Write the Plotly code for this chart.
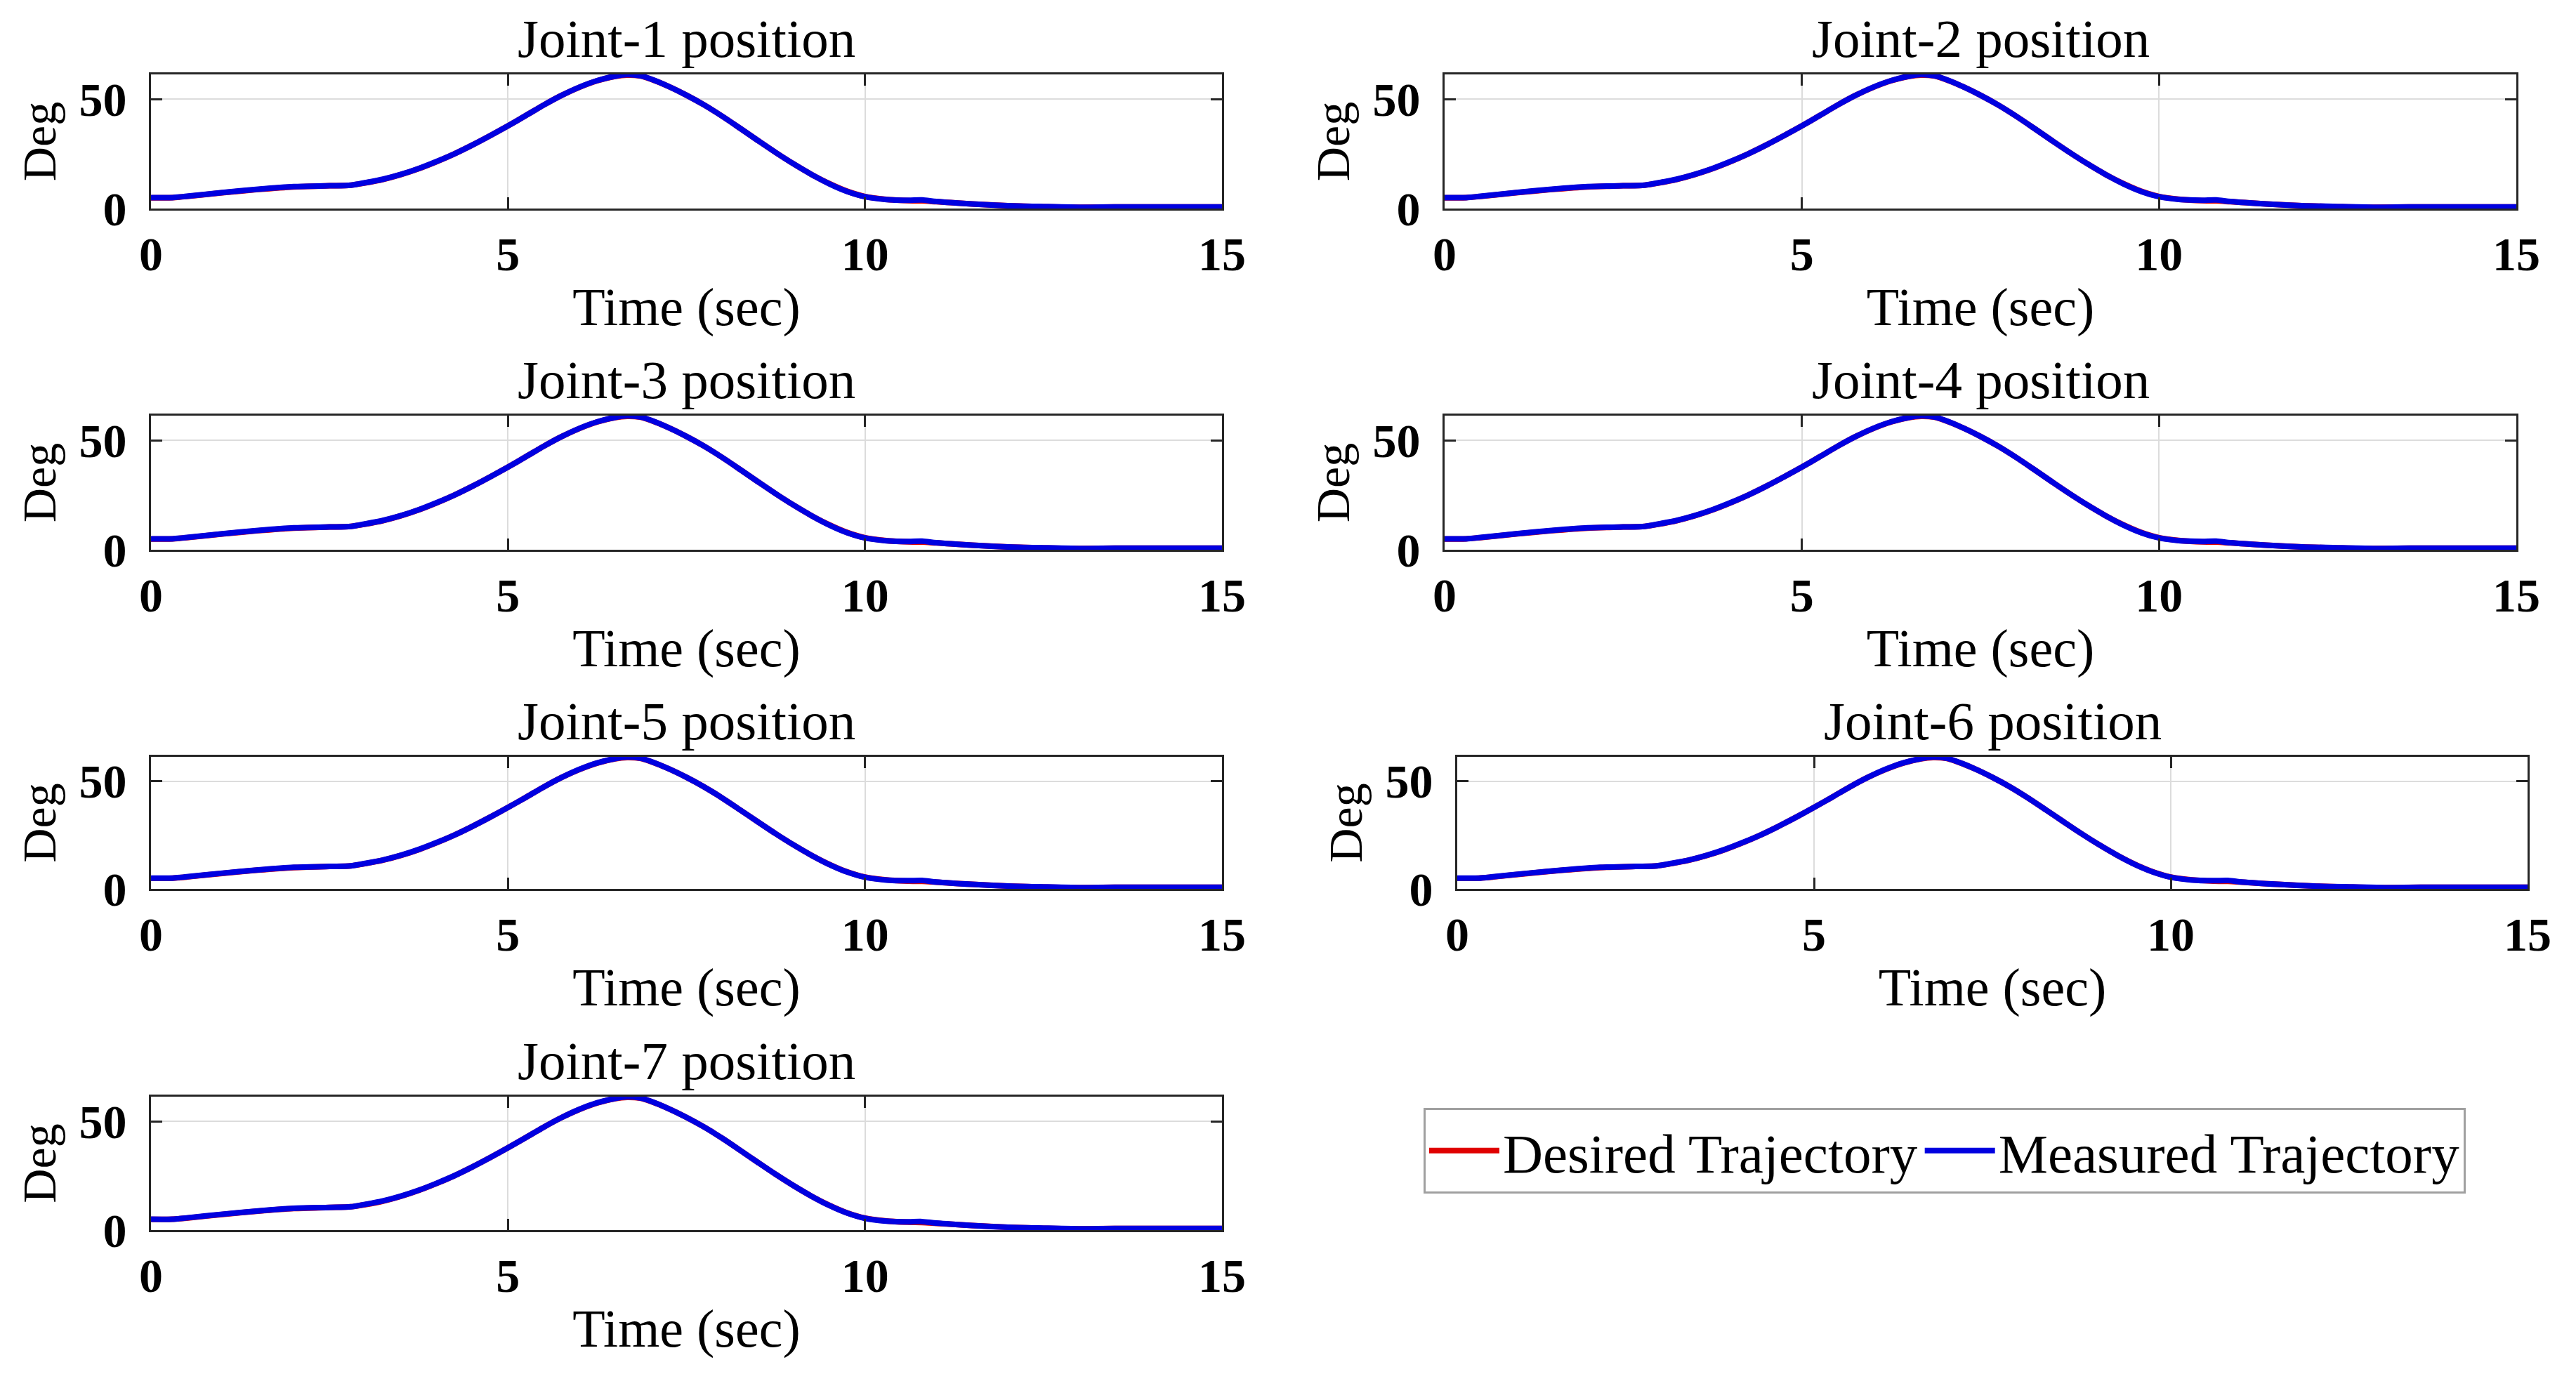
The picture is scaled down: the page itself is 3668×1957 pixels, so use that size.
import plotly.graph_objects as go

# ---- data ----
time_sec = [0, 0.3, 0.5, 1, 1.5, 2, 2.5, 2.8, 3, 3.25, 3.5, 3.75, 4, 4.25, 4.5, 4.75,
            5, 5.25, 5.5, 5.75, 6, 6.25, 6.5, 6.67, 6.85, 7, 7.25, 7.5, 7.75, 8, 8.25,
            8.5, 8.75, 9, 9.25, 9.5, 9.75, 10, 10.3, 10.6, 10.8, 11, 11.5, 12, 12.5,
            13, 13.5, 14, 15]

desired_deg = [4.9, 5.0, 5.5, 7.2, 8.7, 9.9, 10.4, 10.7, 11.7, 13.3, 15.5, 18.2, 21.4,
               25.0, 29.0, 33.3, 37.8, 42.5, 47.3, 51.7, 55.4, 58.4, 60.4, 61.0, 60.6,
               59.1, 55.8, 51.8, 47.3, 42.2, 36.7, 31.1, 25.6, 20.4, 15.6, 11.4, 7.9,
               5.5, 4.2, 3.6, 3.5, 3.1, 2.1, 1.3, 0.8, 0.6, 0.7, 0.75, 0.75]

measured_deg = [5.0, 5.0, 5.6, 7.3, 8.8, 10.0, 10.4, 10.7, 11.8, 13.4, 15.6, 18.3, 21.5,
                25.0, 29.0, 33.3, 37.8, 42.5, 47.3, 51.7, 55.5, 58.5, 60.5, 61.2, 60.7,
                59.2, 55.8, 51.8, 47.3, 42.2, 36.7, 31.1, 25.6, 20.4, 15.6, 11.3, 7.8,
                5.4, 4.1, 3.8, 3.9, 3.2, 2.1, 1.3, 0.9, 0.6, 0.7, 0.75, 0.75]

joint_titles = ["Joint-1 position", "Joint-2 position", "Joint-3 position",
                "Joint-4 position", "Joint-5 position", "Joint-6 position",
                "Joint-7 position"]

x_ticks = [0, 5, 10, 15]
y_ticks = [0, 50]

# ---- layout geometry ----
W, H = 3668, 1957
col_x = {0: (215, 1740), 1: (2057, 3583)}
panel6_x = (2075, 3599)
row_y = [(106, 297), (592, 783), (1078, 1266), (1562, 1752)]

FONT = "Liberation Serif"
AX = "#262626"
RED = "#e00000"
BLUE = "#0000e0"

fig = go.Figure()
annotations = []

for i, title in enumerate(joint_titles):
    r, c = divmod(i, 2)
    x0, x1 = panel6_x if i == 5 else col_x[c]
    y0, y1 = row_y[r]
    xd = [x0 / W, x1 / W]
    yd = [1 - y1 / H, 1 - y0 / H]
    n = i + 1
    xa = "x" if n == 1 else f"x{n}"
    ya = "y" if n == 1 else f"y{n}"

    fig.add_trace(go.Scatter(x=time_sec, y=desired_deg, mode="lines",
                             line=dict(color=RED, width=8, shape="spline", smoothing=0.8),
                             name="Desired Trajectory", showlegend=(i == 0),
                             xaxis=xa, yaxis=ya))
    fig.add_trace(go.Scatter(x=time_sec, y=measured_deg, mode="lines",
                             line=dict(color=BLUE, width=8, shape="spline", smoothing=0.8),
                             name="Measured Trajectory", showlegend=(i == 0),
                             xaxis=xa, yaxis=ya))

    common = dict(showline=True, mirror="ticks", linecolor=AX, linewidth=3,
                  ticks="inside", ticklen=16, tickwidth=3, tickcolor=AX,
                  showgrid=True, gridcolor="#dcdcdc", gridwidth=2, zeroline=False,
                  automargin=False,
                  tickfont=dict(family=FONT, size=68, color="black", weight="bold"))
    fig.layout[f"xaxis{'' if n == 1 else n}"] = dict(
        domain=xd, anchor=ya, range=[0, 15], tickvals=x_ticks,
        ticklabelstandoff=3,
        title=dict(text="Time (sec)", font=dict(family=FONT, size=76, color="black"),
                   standoff=12),
        **common)
    fig.layout[f"yaxis{'' if n == 1 else n}"] = dict(
        domain=yd, anchor=xa, range=[0, 61.3], tickvals=y_ticks,
        ticklabelstandoff=18,
        title=dict(text="Deg", font=dict(family=FONT, size=68, color="black"),
                   standoff=11),
        **common)

    annotations.append(dict(text=title, x=(xd[0] + xd[1]) / 2, y=yd[1],
                            xref="paper", yref="paper", xanchor="center",
                            yanchor="bottom", yshift=6, showarrow=False,
                            font=dict(family=FONT, size=77, color="black")))

fig.update_layout(
    width=W, height=H, margin=dict(l=0, r=0, t=0, b=0),
    paper_bgcolor="white", plot_bgcolor="white",
    annotations=annotations,
    legend=dict(orientation="h", x=2027 / W, y=1 - 1578 / H, xanchor="left",
                yanchor="top", bordercolor="#a0a0a0", borderwidth=3, bgcolor="white",
                font=dict(family=FONT, size=79, color="black"), itemwidth=100,
                tracegroupgap=0),
)

fig.write_html("out.html", config={"displayModeBar": False},
               post_script="document.body.style.margin='0';")
